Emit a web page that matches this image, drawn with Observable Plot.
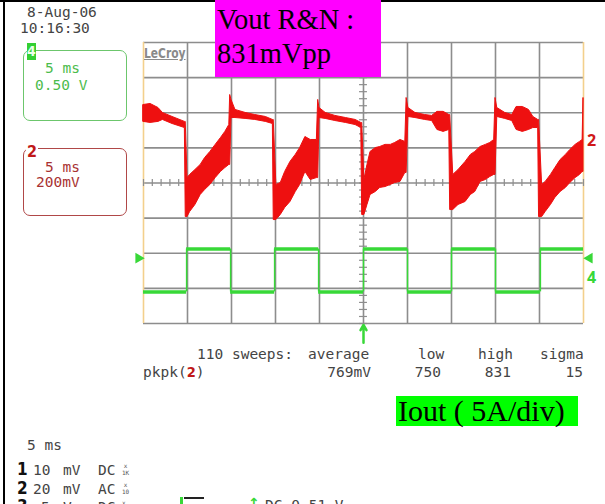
<!DOCTYPE html>
<html><head><meta charset="utf-8">
<script src="https://cdn.jsdelivr.net/npm/d3@7"></script>
<script src="https://cdn.jsdelivr.net/npm/@observablehq/plot@0.6"></script>
<style>
body{margin:0;background:#fff;}
#wrap{position:relative;width:605px;height:504px;overflow:hidden;background:#fff;}
#wrap svg{position:absolute;left:0;top:0;}
.o{position:absolute;white-space:nowrap;line-height:1;}
.mono{font-family:"DejaVu Sans Mono","Liberation Mono",monospace;font-size:14.5px;color:#444;}
.serif{font-family:"Liberation Serif","DejaVu Serif",serif;color:#000;}
.box{position:absolute;border-radius:7px;box-sizing:border-box;}
.big{font-family:"DejaVu Sans Condensed","DejaVu Sans",sans-serif;font-weight:bold;font-size:17px;color:#111;}
.tiny{font-family:"DejaVu Sans Mono",monospace;font-size:6px;line-height:7px;color:#555;text-align:center;}
</style></head>
<body>
<div id="wrap"></div>
<script>
// ---- data (time in ms, 5 ms/div; ch2 in mV, 200 mV/div; ch4 in V, 0.50 V/div) ----
const redT  = [0,0.8,1.7,2.2,3.3,4.7,4.8,5.0,5.3,5.9,6.5,7.0,7.6,8.2,8.8,9.3,9.75,9.85,10.0,10.45,11.6,12.7,13.9,14.7,14.8,15.1,15.6,16.1,16.7,17.3,17.8,18.4,19.0,19.7,19.85,20.0,20.7,21.8,23.0,24.1,24.75,24.85,25.1,25.45,25.8,26.4,26.9,27.5,28.1,28.6,29.2,29.75,29.9,30.1,30.9,32.0,32.8,33.4,34.1,34.75,34.85,35.2,35.8,36.6,37.2,37.7,38.3,38.9,39.4,39.85,40.0,40.2,41.1,41.9,42.4,43.1,43.8,44.3,44.85,44.95,45.3,45.7,46.3,46.8,47.4,48.0,48.5,49.1,49.6,49.9,50.0];
const redHi = [444,450,427,399,376,348,348,28,46,74,103,142,177,217,256,291,330,501,473,416,399,387,376,359,359,-11,0,63,120,160,199,262,245,245,473,427,399,382,370,359,342,342,17,103,177,199,205,217,217,228,245,234,484,427,399,387,382,405,405,387,387,46,74,120,160,177,205,217,228,245,484,427,399,387,433,433,416,376,359,359,-11,6,46,85,131,160,188,217,234,245,484];
const redLo = [348,342,348,359,336,313,-194,-194,-165,-125,-68,-40,-11,28,63,85,103,103,370,370,365,359,348,336,-211,-211,-182,-142,-108,-51,-11,63,17,28,28,370,365,353,342,330,313,-182,-182,-125,-68,-51,-28,-23,-11,0,6,57,57,376,370,359,353,302,291,302,-154,-154,-125,-108,-68,-51,6,17,34,46,46,376,365,353,302,291,302,313,313,-194,-194,-165,-125,-85,-51,-28,0,28,46,63,63];
const greenT = [0,4.9,9.9,14.9,19.9,25.0,30.0,35.0,40.0,45.1,50.0];
const greenV = [-1.55,-0.94,-1.55,-0.94,-1.55,-0.94,-1.55,-0.94,-1.55,-0.94,-0.94];
const ch2Level = 240;     // mV, channel 2 marker
const ch4Level = -1.07;   // V, channel 4 marker
const triggerTime = 25;   // ms
const timeDiv = 5, mvDiv = 200, vDiv = 0.5;
const statHeads = ["average","low","high","sigma"];
const statVals = ["769mV","750","831","15"];

// ---- build tables ----
const red = redT.map((t,i)=>({t, hi: redHi[i], lo: redLo[i]}));
const gSegs = greenT.slice(0,-1).map((t,i)=>({x1:t, x2:greenT[i+1], v:greenV[i]}));
const gEdges = greenT.slice(1).map((t,i)=>({t, a:greenV[i], b:greenV[i+1]})).filter(d=>d.a!==d.b);

const GRID = "#8d8d8d", GREEN = "#38d838", RED = "#ee1010";
const chart = Plot.plot({
  width: 605, height: 504,
  marginLeft: 143, marginRight: 22, marginTop: 42, marginBottom: 181,
  x: {domain: [0, 10*timeDiv], axis: null},
  y: {domain: [-4, 4], axis: null},
  style: {background: "transparent", overflow: "visible"},
  marks: [
    Plot.ruleX(d3.range(timeDiv, 10*timeDiv, timeDiv), {stroke: GRID, strokeWidth: 1.6}),
    Plot.ruleY(d3.range(-3, 4), {stroke: GRID, strokeWidth: 1.6}),
    Plot.ruleY([-4, 4], {stroke: GRID, strokeWidth: 1.6}),
    Plot.ruleX([0, 10*timeDiv], {stroke: "#f3d08c", strokeWidth: 1.6}),
    Plot.ruleX(d3.range(0, 10*timeDiv + 0.01, timeDiv/5), {y1: -0.1, y2: 0.1, stroke: GRID, strokeWidth: 1.2}),
    Plot.ruleY(d3.range(-4, 4.01, 0.2), {x1: 5*timeDiv - 0.45, x2: 5*timeDiv + 0.45, stroke: GRID, strokeWidth: 1.2}),
    Plot.ruleY(gSegs, {x1: "x1", x2: "x2", y: d => d.v/vDiv, stroke: GREEN, strokeWidth: 3.5}),
    Plot.ruleX(gEdges, {x: "t", y1: d => d.a/vDiv, y2: d => d.b/vDiv, stroke: GREEN, strokeWidth: 1.5}),
    Plot.areaY(red, {x: "t", y1: d => d.lo/mvDiv, y2: d => d.hi/mvDiv, fill: RED, stroke: RED, strokeWidth: 1}),
    Plot.dot([{t: 0, v: ch4Level}], {x: "t", y: d => d.v/vDiv, symbol: "triangle", rotate: 90, r: 4, fill: GREEN, dx: -5}),
    Plot.dot([{t: 10*timeDiv, v: ch4Level}], {x: "t", y: d => d.v/vDiv, symbol: "triangle", rotate: -90, r: 4, fill: GREEN, dx: 6}),
    Plot.text([{t: 10*timeDiv, v: ch4Level}], {x: "t", y: d => d.v/vDiv - 0.55, text: () => "4", dx: 8, fill: GREEN, fontWeight: "bold", fontSize: 16}),
    Plot.text([{t: 10*timeDiv, v: ch2Level}], {x: "t", y: d => d.v/mvDiv, text: () => "2", dx: 8, fill: "#d01818", fontWeight: "bold", fontSize: 16}),
    Plot.arrow([{t: triggerTime}], {x1: "t", x2: "t", y1: () => -4.55, y2: () => -4.04, stroke: GREEN, strokeWidth: 2.5, headLength: 8})
  ]
});
const wrap = document.getElementById("wrap");
wrap.appendChild(chart);

function add(html){ wrap.insertAdjacentHTML("beforeend", html); }
// borders
add(`<div style="position:absolute;left:0;top:0;width:605px;height:2px;background:#000"></div>`);
add(`<div style="position:absolute;left:3px;top:0;width:2px;height:504px;background:#000"></div>`);
// date/time
add(`<div class="o mono" style="left:27px;top:5px">8-Aug-06</div>`);
add(`<div class="o mono" style="left:20px;top:21px">10:16:30</div>`);
// channel boxes
add(`<div class="box" style="left:23px;top:50px;width:104px;height:71px;border:1.5px solid #6cc66c"></div>`);
add(`<div class="o" style="left:27px;top:43px;width:9px;height:17px;background:#33d033;color:#eaffea;font:bold 14px 'DejaVu Sans Condensed','DejaVu Sans',sans-serif;text-align:center;line-height:17px">4</div>`);
add(`<div class="o mono" style="left:45px;top:61px;color:#4cbc4c">5 ms</div>`);
add(`<div class="o mono" style="left:35px;top:78px;color:#4cbc4c">0.50 V</div>`);
add(`<div class="box" style="left:23px;top:148px;width:104px;height:68px;border:1.5px solid #b04848"></div>`);
add(`<div class="o" style="left:26px;top:142px;background:#fff;color:#c01818;font:bold 16px 'DejaVu Sans Condensed','DejaVu Sans',sans-serif;padding:0 1px">2</div>`);
add(`<div class="o mono" style="left:45px;top:160px;color:#a83232">5 ms</div>`);
add(`<div class="o mono" style="left:36px;top:175px;color:#a83232">200mV</div>`);
// LeCroy
add(`<div class="o" style="left:144px;top:45px;font:bold 14px 'DejaVu Sans Condensed','DejaVu Sans',sans-serif;color:#8a8a8a;text-decoration:underline;transform:scaleX(0.85);transform-origin:left top">LeCroy</div>`);
// magenta annotation
add(`<div class="o serif" style="left:215px;top:0;width:166px;height:77px;background:#ff00ff;font-size:28.5px;line-height:34px;padding:3px 0 0 2px;box-sizing:border-box">Vout R&amp;N :<br>831mVpp</div>`);
// stats
add(`<div class="o mono" style="left:197px;top:347px">110 sweeps:</div>`);
const headX = [308, 418, 478, 540];
statHeads.forEach((h,i)=>add(`<div class="o mono" style="left:${headX[i]}px;top:347px">${h}</div>`));
add(`<div class="o mono" style="left:143px;top:365px">pkpk(<b style="color:#c01818;font-family:'DejaVu Sans Condensed','DejaVu Sans',sans-serif">2</b>)</div>`);
const valR = [371, 441, 511, 583];
statVals.forEach((v,i)=>add(`<div class="o mono" style="right:${605-valR[i]}px;top:365px">${v}</div>`));
// Iout annotation
add(`<div class="o serif" style="left:396px;top:396px;width:182px;height:30px;background:#00ff00;font-size:30px;line-height:30px;padding-left:2px;box-sizing:border-box">Iout ( 5A/div)</div>`);
// bottom channel table
add(`<div class="o mono" style="left:27px;top:438px">5 ms</div>`);
const rows = [["1","10","mV","DC","1K",461],["2","20","mV","AC","10",480],["3","5","V","DC","",498]];
rows.forEach(r=>{
  const y = r[5];
  add(`<div class="o big" style="left:17px;top:${y}px">${r[0]}</div>`);
  add(`<div class="o mono" style="left:${r[1].length>1?33:41}px;top:${y+2}px">${r[1]}</div>`);
  add(`<div class="o mono" style="left:63px;top:${y+2}px">${r[2]}</div>`);
  add(`<div class="o mono" style="left:98px;top:${y+2}px">${r[3]}</div>`);
  add(`<div class="o tiny" style="left:122px;top:${y+1}px">x<br>${r[4]}</div>`);
});
add(`<div style="position:absolute;left:180px;top:497px;width:3px;height:10px;background:#38d838"></div>`);
add(`<div style="position:absolute;left:184px;top:497px;width:20px;height:1.5px;background:#222"></div>`);
add(`<div class="o" style="left:248px;top:495px;color:#38d838;font:bold 14px 'DejaVu Sans',sans-serif">&#8593;</div>`);
add(`<div class="o mono" style="left:265px;top:498px">DC 0.51 V</div>`);
</script>
</body></html>
